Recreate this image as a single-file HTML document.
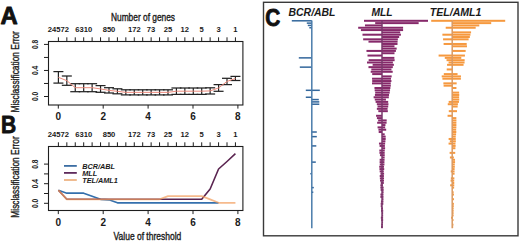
<!DOCTYPE html>
<html><head><meta charset="utf-8"><style>html,body{margin:0;padding:0;background:#fff;}svg{display:block;}</style></head>
<body>
<svg width="520" height="241" viewBox="0 0 520 241" font-family='"Liberation Sans", sans-serif'>
<rect width="520" height="241" fill="#fff"/>
<rect x="48.5" y="41.5" width="194.4" height="63.5" fill="none" stroke="#1e1e1e" stroke-width="1.1"/>
<line x1="58.40" y1="37.30" x2="58.40" y2="41.50" stroke="#1e1e1e" stroke-width="1" />
<line x1="66.83" y1="37.30" x2="66.83" y2="41.50" stroke="#1e1e1e" stroke-width="1" />
<line x1="75.26" y1="37.30" x2="75.26" y2="41.50" stroke="#1e1e1e" stroke-width="1" />
<line x1="83.69" y1="37.30" x2="83.69" y2="41.50" stroke="#1e1e1e" stroke-width="1" />
<line x1="92.12" y1="37.30" x2="92.12" y2="41.50" stroke="#1e1e1e" stroke-width="1" />
<line x1="100.55" y1="37.30" x2="100.55" y2="41.50" stroke="#1e1e1e" stroke-width="1" />
<line x1="108.98" y1="37.30" x2="108.98" y2="41.50" stroke="#1e1e1e" stroke-width="1" />
<line x1="117.41" y1="37.30" x2="117.41" y2="41.50" stroke="#1e1e1e" stroke-width="1" />
<line x1="125.84" y1="37.30" x2="125.84" y2="41.50" stroke="#1e1e1e" stroke-width="1" />
<line x1="134.27" y1="37.30" x2="134.27" y2="41.50" stroke="#1e1e1e" stroke-width="1" />
<line x1="142.70" y1="37.30" x2="142.70" y2="41.50" stroke="#1e1e1e" stroke-width="1" />
<line x1="151.13" y1="37.30" x2="151.13" y2="41.50" stroke="#1e1e1e" stroke-width="1" />
<line x1="159.56" y1="37.30" x2="159.56" y2="41.50" stroke="#1e1e1e" stroke-width="1" />
<line x1="167.99" y1="37.30" x2="167.99" y2="41.50" stroke="#1e1e1e" stroke-width="1" />
<line x1="176.42" y1="37.30" x2="176.42" y2="41.50" stroke="#1e1e1e" stroke-width="1" />
<line x1="184.85" y1="37.30" x2="184.85" y2="41.50" stroke="#1e1e1e" stroke-width="1" />
<line x1="193.28" y1="37.30" x2="193.28" y2="41.50" stroke="#1e1e1e" stroke-width="1" />
<line x1="201.71" y1="37.30" x2="201.71" y2="41.50" stroke="#1e1e1e" stroke-width="1" />
<line x1="210.14" y1="37.30" x2="210.14" y2="41.50" stroke="#1e1e1e" stroke-width="1" />
<line x1="218.57" y1="37.30" x2="218.57" y2="41.50" stroke="#1e1e1e" stroke-width="1" />
<line x1="227.00" y1="37.30" x2="227.00" y2="41.50" stroke="#1e1e1e" stroke-width="1" />
<line x1="235.43" y1="37.30" x2="235.43" y2="41.50" stroke="#1e1e1e" stroke-width="1" />
<text x="58.4" y="32.2" font-size="7.6" font-weight="bold" font-style="normal" text-anchor="middle" fill="#1a1a1a" >24572</text>
<text x="83.7" y="32.2" font-size="7.6" font-weight="bold" font-style="normal" text-anchor="middle" fill="#1a1a1a" >6310</text>
<text x="109.0" y="32.2" font-size="7.6" font-weight="bold" font-style="normal" text-anchor="middle" fill="#1a1a1a" >850</text>
<text x="134.3" y="32.2" font-size="7.6" font-weight="bold" font-style="normal" text-anchor="middle" fill="#1a1a1a" >172</text>
<text x="151.1" y="32.2" font-size="7.6" font-weight="bold" font-style="normal" text-anchor="middle" fill="#1a1a1a" >73</text>
<text x="168.0" y="32.2" font-size="7.6" font-weight="bold" font-style="normal" text-anchor="middle" fill="#1a1a1a" >25</text>
<text x="184.8" y="32.2" font-size="7.6" font-weight="bold" font-style="normal" text-anchor="middle" fill="#1a1a1a" >12</text>
<text x="201.7" y="32.2" font-size="7.6" font-weight="bold" font-style="normal" text-anchor="middle" fill="#1a1a1a" >5</text>
<text x="218.6" y="32.2" font-size="7.6" font-weight="bold" font-style="normal" text-anchor="middle" fill="#1a1a1a" >3</text>
<text x="235.4" y="32.2" font-size="7.6" font-weight="bold" font-style="normal" text-anchor="middle" fill="#1a1a1a" >1</text>
<line x1="58.30" y1="105.00" x2="58.30" y2="108.60" stroke="#1e1e1e" stroke-width="1" />
<text x="58.3" y="120.2" font-size="10" font-weight="bold" font-style="normal" text-anchor="middle" fill="#1a1a1a" >0</text>
<line x1="103.20" y1="105.00" x2="103.20" y2="108.60" stroke="#1e1e1e" stroke-width="1" />
<text x="103.2" y="120.2" font-size="10" font-weight="bold" font-style="normal" text-anchor="middle" fill="#1a1a1a" >2</text>
<line x1="148.10" y1="105.00" x2="148.10" y2="108.60" stroke="#1e1e1e" stroke-width="1" />
<text x="148.1" y="120.2" font-size="10" font-weight="bold" font-style="normal" text-anchor="middle" fill="#1a1a1a" >4</text>
<line x1="193.00" y1="105.00" x2="193.00" y2="108.60" stroke="#1e1e1e" stroke-width="1" />
<text x="193.0" y="120.2" font-size="10" font-weight="bold" font-style="normal" text-anchor="middle" fill="#1a1a1a" >6</text>
<line x1="237.90" y1="105.00" x2="237.90" y2="108.60" stroke="#1e1e1e" stroke-width="1" />
<text x="237.9" y="120.2" font-size="10" font-weight="bold" font-style="normal" text-anchor="middle" fill="#1a1a1a" >8</text>
<line x1="44.00" y1="96.50" x2="48.50" y2="96.50" stroke="#1e1e1e" stroke-width="1" />
<line x1="44.00" y1="83.48" x2="48.50" y2="83.48" stroke="#1e1e1e" stroke-width="1" />
<line x1="44.00" y1="70.46" x2="48.50" y2="70.46" stroke="#1e1e1e" stroke-width="1" />
<line x1="44.00" y1="57.44" x2="48.50" y2="57.44" stroke="#1e1e1e" stroke-width="1" />
<line x1="44.00" y1="44.42" x2="48.50" y2="44.42" stroke="#1e1e1e" stroke-width="1" />
<text x="0" y="0" transform="translate(38.2,96.5) rotate(-90)" font-size="8.2" font-weight="bold" text-anchor="middle" fill="#222" textLength="9.2" lengthAdjust="spacingAndGlyphs">0.0</text>
<text x="0" y="0" transform="translate(38.2,70.5) rotate(-90)" font-size="8.2" font-weight="bold" text-anchor="middle" fill="#222" textLength="9.2" lengthAdjust="spacingAndGlyphs">0.4</text>
<text x="0" y="0" transform="translate(38.2,44.4) rotate(-90)" font-size="8.2" font-weight="bold" text-anchor="middle" fill="#222" textLength="9.2" lengthAdjust="spacingAndGlyphs">0.8</text>
<text x="0" y="0" transform="translate(19,71.8) rotate(-90)" font-size="10.3" font-weight="normal" stroke="#1a1a1a" stroke-width="0.35" text-anchor="middle" fill="#1a1a1a" textLength="81.4" lengthAdjust="spacingAndGlyphs">Misclassification Error</text>
<text x="143" y="20.8" font-size="10.3" font-weight="normal" font-style="normal" text-anchor="middle" fill="#1a1a1a" textLength="64" lengthAdjust="spacingAndGlyphs" stroke="#1a1a1a" stroke-width="0.35">Number of genes</text>
<line x1="58.40" y1="71.60" x2="58.40" y2="83.10" stroke="#222" stroke-width="1.2" />
<line x1="53.40" y1="71.60" x2="63.40" y2="71.60" stroke="#222" stroke-width="1.25" />
<line x1="53.40" y1="83.10" x2="63.40" y2="83.10" stroke="#222" stroke-width="1.25" />
<line x1="66.83" y1="76.00" x2="66.83" y2="85.30" stroke="#222" stroke-width="1.2" />
<line x1="61.83" y1="76.00" x2="71.83" y2="76.00" stroke="#222" stroke-width="1.25" />
<line x1="61.83" y1="85.30" x2="71.83" y2="85.30" stroke="#222" stroke-width="1.25" />
<line x1="75.26" y1="83.70" x2="75.26" y2="91.70" stroke="#222" stroke-width="1.2" />
<line x1="70.26" y1="83.70" x2="80.26" y2="83.70" stroke="#222" stroke-width="1.25" />
<line x1="70.26" y1="91.70" x2="80.26" y2="91.70" stroke="#222" stroke-width="1.25" />
<line x1="83.69" y1="83.70" x2="83.69" y2="91.70" stroke="#222" stroke-width="1.2" />
<line x1="78.69" y1="83.70" x2="88.69" y2="83.70" stroke="#222" stroke-width="1.25" />
<line x1="78.69" y1="91.70" x2="88.69" y2="91.70" stroke="#222" stroke-width="1.25" />
<line x1="92.12" y1="83.70" x2="92.12" y2="91.70" stroke="#222" stroke-width="1.2" />
<line x1="87.12" y1="83.70" x2="97.12" y2="83.70" stroke="#222" stroke-width="1.25" />
<line x1="87.12" y1="91.70" x2="97.12" y2="91.70" stroke="#222" stroke-width="1.25" />
<line x1="100.55" y1="85.60" x2="100.55" y2="92.30" stroke="#222" stroke-width="1.2" />
<line x1="95.55" y1="85.60" x2="105.55" y2="85.60" stroke="#222" stroke-width="1.25" />
<line x1="95.55" y1="92.30" x2="105.55" y2="92.30" stroke="#222" stroke-width="1.25" />
<line x1="108.98" y1="87.70" x2="108.98" y2="93.00" stroke="#222" stroke-width="1.2" />
<line x1="103.98" y1="87.70" x2="113.98" y2="87.70" stroke="#222" stroke-width="1.25" />
<line x1="103.98" y1="93.00" x2="113.98" y2="93.00" stroke="#222" stroke-width="1.25" />
<line x1="117.41" y1="88.80" x2="117.41" y2="93.80" stroke="#222" stroke-width="1.2" />
<line x1="112.41" y1="88.80" x2="122.41" y2="88.80" stroke="#222" stroke-width="1.25" />
<line x1="112.41" y1="93.80" x2="122.41" y2="93.80" stroke="#222" stroke-width="1.25" />
<line x1="125.84" y1="89.80" x2="125.84" y2="94.90" stroke="#222" stroke-width="1.2" />
<line x1="120.84" y1="89.80" x2="130.84" y2="89.80" stroke="#222" stroke-width="1.25" />
<line x1="120.84" y1="94.90" x2="130.84" y2="94.90" stroke="#222" stroke-width="1.25" />
<line x1="134.27" y1="89.80" x2="134.27" y2="94.90" stroke="#222" stroke-width="1.2" />
<line x1="129.27" y1="89.80" x2="139.27" y2="89.80" stroke="#222" stroke-width="1.25" />
<line x1="129.27" y1="94.90" x2="139.27" y2="94.90" stroke="#222" stroke-width="1.25" />
<line x1="142.70" y1="89.80" x2="142.70" y2="94.90" stroke="#222" stroke-width="1.2" />
<line x1="137.70" y1="89.80" x2="147.70" y2="89.80" stroke="#222" stroke-width="1.25" />
<line x1="137.70" y1="94.90" x2="147.70" y2="94.90" stroke="#222" stroke-width="1.25" />
<line x1="151.13" y1="89.80" x2="151.13" y2="94.90" stroke="#222" stroke-width="1.2" />
<line x1="146.13" y1="89.80" x2="156.13" y2="89.80" stroke="#222" stroke-width="1.25" />
<line x1="146.13" y1="94.90" x2="156.13" y2="94.90" stroke="#222" stroke-width="1.25" />
<line x1="159.56" y1="89.80" x2="159.56" y2="94.90" stroke="#222" stroke-width="1.2" />
<line x1="154.56" y1="89.80" x2="164.56" y2="89.80" stroke="#222" stroke-width="1.25" />
<line x1="154.56" y1="94.90" x2="164.56" y2="94.90" stroke="#222" stroke-width="1.25" />
<line x1="167.99" y1="89.80" x2="167.99" y2="94.90" stroke="#222" stroke-width="1.2" />
<line x1="162.99" y1="89.80" x2="172.99" y2="89.80" stroke="#222" stroke-width="1.25" />
<line x1="162.99" y1="94.90" x2="172.99" y2="94.90" stroke="#222" stroke-width="1.25" />
<line x1="176.42" y1="88.00" x2="176.42" y2="94.40" stroke="#222" stroke-width="1.2" />
<line x1="171.42" y1="88.00" x2="181.42" y2="88.00" stroke="#222" stroke-width="1.25" />
<line x1="171.42" y1="94.40" x2="181.42" y2="94.40" stroke="#222" stroke-width="1.25" />
<line x1="184.85" y1="88.00" x2="184.85" y2="94.40" stroke="#222" stroke-width="1.2" />
<line x1="179.85" y1="88.00" x2="189.85" y2="88.00" stroke="#222" stroke-width="1.25" />
<line x1="179.85" y1="94.40" x2="189.85" y2="94.40" stroke="#222" stroke-width="1.25" />
<line x1="193.28" y1="88.00" x2="193.28" y2="94.40" stroke="#222" stroke-width="1.2" />
<line x1="188.28" y1="88.00" x2="198.28" y2="88.00" stroke="#222" stroke-width="1.25" />
<line x1="188.28" y1="94.40" x2="198.28" y2="94.40" stroke="#222" stroke-width="1.25" />
<line x1="201.71" y1="88.00" x2="201.71" y2="94.40" stroke="#222" stroke-width="1.2" />
<line x1="196.71" y1="88.00" x2="206.71" y2="88.00" stroke="#222" stroke-width="1.25" />
<line x1="196.71" y1="94.40" x2="206.71" y2="94.40" stroke="#222" stroke-width="1.25" />
<line x1="210.14" y1="87.80" x2="210.14" y2="94.00" stroke="#222" stroke-width="1.2" />
<line x1="205.14" y1="87.80" x2="215.14" y2="87.80" stroke="#222" stroke-width="1.25" />
<line x1="205.14" y1="94.00" x2="215.14" y2="94.00" stroke="#222" stroke-width="1.25" />
<line x1="218.57" y1="84.60" x2="218.57" y2="91.30" stroke="#222" stroke-width="1.2" />
<line x1="213.57" y1="84.60" x2="223.57" y2="84.60" stroke="#222" stroke-width="1.25" />
<line x1="213.57" y1="91.30" x2="223.57" y2="91.30" stroke="#222" stroke-width="1.25" />
<line x1="227.00" y1="78.30" x2="227.00" y2="84.60" stroke="#222" stroke-width="1.2" />
<line x1="222.00" y1="78.30" x2="232.00" y2="78.30" stroke="#222" stroke-width="1.25" />
<line x1="222.00" y1="84.60" x2="232.00" y2="84.60" stroke="#222" stroke-width="1.25" />
<line x1="235.43" y1="76.40" x2="235.43" y2="80.50" stroke="#222" stroke-width="1.2" />
<line x1="230.43" y1="76.40" x2="240.43" y2="76.40" stroke="#222" stroke-width="1.25" />
<line x1="230.43" y1="80.50" x2="240.43" y2="80.50" stroke="#222" stroke-width="1.25" />
<polyline points="58.40,77.35 66.83,80.65 75.26,87.70 83.69,87.70 92.12,87.70 100.55,88.95 108.98,90.35 117.41,91.30 125.84,92.35 134.27,92.35 142.70,92.35 151.13,92.35 159.56,92.35 167.99,92.35 176.42,91.20 184.85,91.20 193.28,91.20 201.71,91.20 210.14,90.90 218.57,87.95 227.00,81.45 235.43,78.45" fill="none" stroke="#ec8a7c" stroke-width="1.0" stroke-linejoin="round"/>
<rect x="48.5" y="146.5" width="194.4" height="64.0" fill="none" stroke="#1e1e1e" stroke-width="1.1"/>
<line x1="58.40" y1="142.30" x2="58.40" y2="146.50" stroke="#1e1e1e" stroke-width="1" />
<line x1="66.83" y1="142.30" x2="66.83" y2="146.50" stroke="#1e1e1e" stroke-width="1" />
<line x1="75.26" y1="142.30" x2="75.26" y2="146.50" stroke="#1e1e1e" stroke-width="1" />
<line x1="83.69" y1="142.30" x2="83.69" y2="146.50" stroke="#1e1e1e" stroke-width="1" />
<line x1="92.12" y1="142.30" x2="92.12" y2="146.50" stroke="#1e1e1e" stroke-width="1" />
<line x1="100.55" y1="142.30" x2="100.55" y2="146.50" stroke="#1e1e1e" stroke-width="1" />
<line x1="108.98" y1="142.30" x2="108.98" y2="146.50" stroke="#1e1e1e" stroke-width="1" />
<line x1="117.41" y1="142.30" x2="117.41" y2="146.50" stroke="#1e1e1e" stroke-width="1" />
<line x1="125.84" y1="142.30" x2="125.84" y2="146.50" stroke="#1e1e1e" stroke-width="1" />
<line x1="134.27" y1="142.30" x2="134.27" y2="146.50" stroke="#1e1e1e" stroke-width="1" />
<line x1="142.70" y1="142.30" x2="142.70" y2="146.50" stroke="#1e1e1e" stroke-width="1" />
<line x1="151.13" y1="142.30" x2="151.13" y2="146.50" stroke="#1e1e1e" stroke-width="1" />
<line x1="159.56" y1="142.30" x2="159.56" y2="146.50" stroke="#1e1e1e" stroke-width="1" />
<line x1="167.99" y1="142.30" x2="167.99" y2="146.50" stroke="#1e1e1e" stroke-width="1" />
<line x1="176.42" y1="142.30" x2="176.42" y2="146.50" stroke="#1e1e1e" stroke-width="1" />
<line x1="184.85" y1="142.30" x2="184.85" y2="146.50" stroke="#1e1e1e" stroke-width="1" />
<line x1="193.28" y1="142.30" x2="193.28" y2="146.50" stroke="#1e1e1e" stroke-width="1" />
<line x1="201.71" y1="142.30" x2="201.71" y2="146.50" stroke="#1e1e1e" stroke-width="1" />
<line x1="210.14" y1="142.30" x2="210.14" y2="146.50" stroke="#1e1e1e" stroke-width="1" />
<line x1="218.57" y1="142.30" x2="218.57" y2="146.50" stroke="#1e1e1e" stroke-width="1" />
<line x1="227.00" y1="142.30" x2="227.00" y2="146.50" stroke="#1e1e1e" stroke-width="1" />
<line x1="235.43" y1="142.30" x2="235.43" y2="146.50" stroke="#1e1e1e" stroke-width="1" />
<text x="58.4" y="137.2" font-size="7.6" font-weight="bold" font-style="normal" text-anchor="middle" fill="#1a1a1a" >24572</text>
<text x="83.7" y="137.2" font-size="7.6" font-weight="bold" font-style="normal" text-anchor="middle" fill="#1a1a1a" >6310</text>
<text x="109.0" y="137.2" font-size="7.6" font-weight="bold" font-style="normal" text-anchor="middle" fill="#1a1a1a" >850</text>
<text x="134.3" y="137.2" font-size="7.6" font-weight="bold" font-style="normal" text-anchor="middle" fill="#1a1a1a" >172</text>
<text x="151.1" y="137.2" font-size="7.6" font-weight="bold" font-style="normal" text-anchor="middle" fill="#1a1a1a" >73</text>
<text x="168.0" y="137.2" font-size="7.6" font-weight="bold" font-style="normal" text-anchor="middle" fill="#1a1a1a" >25</text>
<text x="184.8" y="137.2" font-size="7.6" font-weight="bold" font-style="normal" text-anchor="middle" fill="#1a1a1a" >12</text>
<text x="201.7" y="137.2" font-size="7.6" font-weight="bold" font-style="normal" text-anchor="middle" fill="#1a1a1a" >5</text>
<text x="218.6" y="137.2" font-size="7.6" font-weight="bold" font-style="normal" text-anchor="middle" fill="#1a1a1a" >3</text>
<text x="235.4" y="137.2" font-size="7.6" font-weight="bold" font-style="normal" text-anchor="middle" fill="#1a1a1a" >1</text>
<line x1="58.30" y1="210.50" x2="58.30" y2="214.10" stroke="#1e1e1e" stroke-width="1" />
<text x="58.3" y="225.7" font-size="10" font-weight="bold" font-style="normal" text-anchor="middle" fill="#1a1a1a" >0</text>
<line x1="103.20" y1="210.50" x2="103.20" y2="214.10" stroke="#1e1e1e" stroke-width="1" />
<text x="103.2" y="225.7" font-size="10" font-weight="bold" font-style="normal" text-anchor="middle" fill="#1a1a1a" >2</text>
<line x1="148.10" y1="210.50" x2="148.10" y2="214.10" stroke="#1e1e1e" stroke-width="1" />
<text x="148.1" y="225.7" font-size="10" font-weight="bold" font-style="normal" text-anchor="middle" fill="#1a1a1a" >4</text>
<line x1="193.00" y1="210.50" x2="193.00" y2="214.10" stroke="#1e1e1e" stroke-width="1" />
<text x="193.0" y="225.7" font-size="10" font-weight="bold" font-style="normal" text-anchor="middle" fill="#1a1a1a" >6</text>
<line x1="237.90" y1="210.50" x2="237.90" y2="214.10" stroke="#1e1e1e" stroke-width="1" />
<text x="237.9" y="225.7" font-size="10" font-weight="bold" font-style="normal" text-anchor="middle" fill="#1a1a1a" >8</text>
<line x1="44.00" y1="203.30" x2="48.50" y2="203.30" stroke="#1e1e1e" stroke-width="1" />
<line x1="44.00" y1="193.50" x2="48.50" y2="193.50" stroke="#1e1e1e" stroke-width="1" />
<line x1="44.00" y1="183.70" x2="48.50" y2="183.70" stroke="#1e1e1e" stroke-width="1" />
<line x1="44.00" y1="173.90" x2="48.50" y2="173.90" stroke="#1e1e1e" stroke-width="1" />
<line x1="44.00" y1="164.10" x2="48.50" y2="164.10" stroke="#1e1e1e" stroke-width="1" />
<text x="0" y="0" transform="translate(38.2,203.3) rotate(-90)" font-size="8.2" font-weight="bold" text-anchor="middle" fill="#222" textLength="9.2" lengthAdjust="spacingAndGlyphs">0.0</text>
<text x="0" y="0" transform="translate(38.2,183.7) rotate(-90)" font-size="8.2" font-weight="bold" text-anchor="middle" fill="#222" textLength="9.2" lengthAdjust="spacingAndGlyphs">0.4</text>
<text x="0" y="0" transform="translate(38.2,164.1) rotate(-90)" font-size="8.2" font-weight="bold" text-anchor="middle" fill="#222" textLength="9.2" lengthAdjust="spacingAndGlyphs">0.8</text>
<text x="0" y="0" transform="translate(19,177.0) rotate(-90)" font-size="10.3" font-weight="normal" stroke="#1a1a1a" stroke-width="0.35" text-anchor="middle" fill="#1a1a1a" textLength="81.4" lengthAdjust="spacingAndGlyphs">Misclassification Error</text>
<text x="147.4" y="240.2" font-size="10.3" font-weight="normal" font-style="normal" text-anchor="middle" fill="#1a1a1a" textLength="67.7" lengthAdjust="spacingAndGlyphs" stroke="#1a1a1a" stroke-width="0.35">Value of threshold</text>
<line x1="64.00" y1="165.90" x2="76.80" y2="165.90" stroke="#3c6ea3" stroke-width="1.8" />
<text x="82.2" y="168.5" font-size="7.3" font-weight="bold" font-style="italic" text-anchor="start" fill="#1a1a1a" >BCR/ABL</text>
<line x1="64.00" y1="172.90" x2="76.80" y2="172.90" stroke="#5e2a5c" stroke-width="1.8" />
<text x="82.2" y="175.5" font-size="7.3" font-weight="bold" font-style="italic" text-anchor="start" fill="#1a1a1a" >MLL</text>
<line x1="64.00" y1="180.00" x2="76.80" y2="180.00" stroke="#eeb484" stroke-width="1.8" />
<text x="82.2" y="182.6" font-size="7.3" font-weight="bold" font-style="italic" text-anchor="start" fill="#1a1a1a" >TEL/AML1</text>
<polyline points="58.40,190.20 66.83,193.20 75.26,193.20 83.69,193.20 92.12,196.30 100.55,199.30 108.98,199.80 117.41,202.80 125.84,202.80 134.27,202.80 142.70,202.80 151.13,202.80 159.56,202.80 167.99,202.80 176.42,202.80 184.85,202.80 193.28,202.80 201.71,202.80 210.14,202.80 218.57,202.80" fill="none" stroke="#3470ad" stroke-width="1.7" stroke-linejoin="round"/>
<polyline points="58.40,190.20 66.83,199.30 75.26,199.30 83.69,199.30 92.12,199.30 100.55,199.30 108.98,199.30 117.41,199.30 125.84,199.30 134.27,199.30 142.70,199.30 151.13,199.30 159.56,199.30 167.99,199.30 176.42,199.30 184.85,199.30 193.28,199.30 201.71,199.30 210.14,189.00 218.57,169.00 227.00,161.50 235.43,153.70" fill="none" stroke="#5a2450" stroke-width="1.6" stroke-linejoin="round"/>
<g opacity="0.72">
<polyline points="58.40,190.20 66.83,199.30 75.26,199.30 83.69,199.30 92.12,199.30 100.55,199.30 108.98,199.30 117.41,199.30 125.84,199.30 134.27,199.30 142.70,199.30 151.13,199.30 159.56,199.30 167.99,196.10 176.42,196.10 184.85,196.10 193.28,196.10 201.71,196.10 210.14,199.40 218.57,202.80 227.00,202.80 235.43,202.80" fill="none" stroke="#f2a060" stroke-width="1.7" stroke-linejoin="round"/>
</g>
<text x="9" y="24.3" font-size="24.5" font-weight="bold" font-style="normal" text-anchor="middle" fill="#111" textLength="17.2" lengthAdjust="spacingAndGlyphs" stroke="#111" stroke-width="0.9" stroke-linejoin="round">A</text>
<text x="8.7" y="133.4" font-size="24.8" font-weight="bold" font-style="normal" text-anchor="middle" fill="#111" textLength="15.2" lengthAdjust="spacingAndGlyphs" stroke="#111" stroke-width="0.9" stroke-linejoin="round">B</text>
<text x="272.8" y="25.5" font-size="24.8" font-weight="bold" font-style="normal" text-anchor="middle" fill="#111" textLength="15" lengthAdjust="spacingAndGlyphs" stroke="#111" stroke-width="0.9" stroke-linejoin="round">C</text>
<rect x="263.5" y="2.3" width="254.5" height="233.5" fill="none" stroke="#3a3a3a" stroke-width="1.4"/>
<text x="312" y="15.9" font-size="10.5" font-weight="bold" font-style="italic" text-anchor="middle" fill="#1a1a1a" textLength="47" lengthAdjust="spacingAndGlyphs" >BCR/ABL</text>
<text x="382" y="16.1" font-size="10.5" font-weight="bold" font-style="italic" text-anchor="middle" fill="#1a1a1a" textLength="21.2" lengthAdjust="spacingAndGlyphs" >MLL</text>
<text x="455.6" y="16.2" font-size="10.5" font-weight="bold" font-style="italic" text-anchor="middle" fill="#1a1a1a" textLength="51.8" lengthAdjust="spacingAndGlyphs" >TEL/AML1</text>
<rect x="291.80" y="20.05" width="20.00" height="1.5" fill="#33679c"/>
<rect x="306.80" y="22.37" width="5.00" height="1.5" fill="#33679c"/>
<rect x="307.80" y="24.68" width="4.00" height="1.5" fill="#33679c"/>
<rect x="309.30" y="27.00" width="2.50" height="1.5" fill="#33679c"/>
<rect x="298.80" y="57.12" width="13.00" height="1.5" fill="#33679c"/>
<rect x="299.80" y="66.39" width="12.00" height="1.5" fill="#33679c"/>
<rect x="311.80" y="89.56" width="8.00" height="1.5" fill="#33679c"/>
<rect x="305.80" y="89.56" width="6.00" height="1.5" fill="#33679c"/>
<rect x="305.80" y="96.51" width="6.00" height="1.5" fill="#33679c"/>
<rect x="311.80" y="98.82" width="7.00" height="1.5" fill="#33679c"/>
<rect x="311.80" y="101.14" width="7.50" height="1.5" fill="#33679c"/>
<rect x="311.80" y="103.46" width="7.50" height="1.5" fill="#33679c"/>
<rect x="311.80" y="131.26" width="5.00" height="1.5" fill="#33679c"/>
<rect x="311.80" y="135.89" width="5.00" height="1.5" fill="#33679c"/>
<rect x="311.80" y="145.16" width="4.50" height="1.5" fill="#33679c"/>
<rect x="311.80" y="161.38" width="4.00" height="1.5" fill="#33679c"/>
<rect x="310.30" y="172.96" width="1.50" height="1.5" fill="#33679c"/>
<rect x="311.80" y="186.86" width="2.00" height="1.5" fill="#33679c"/>
<rect x="311.80" y="191.50" width="1.50" height="1.5" fill="#33679c"/>
<line x1="311.80" y1="20.50" x2="311.80" y2="228.30" stroke="#4a7cab" stroke-width="1.5" />
<rect x="382.00" y="19.80" width="46.00" height="2.0" fill="#86296a"/>
<rect x="364.00" y="19.80" width="18.00" height="2.0" fill="#86296a"/>
<rect x="382.00" y="22.12" width="36.65" height="2.0" fill="#86296a"/>
<rect x="375.18" y="22.12" width="6.82" height="2.0" fill="#86296a"/>
<rect x="364.97" y="24.43" width="17.03" height="2.0" fill="#86296a"/>
<rect x="382.00" y="26.75" width="21.10" height="2.0" fill="#86296a"/>
<rect x="358.18" y="26.75" width="23.82" height="2.0" fill="#86296a"/>
<rect x="382.00" y="29.07" width="21.09" height="2.0" fill="#86296a"/>
<rect x="360.91" y="29.07" width="21.09" height="2.0" fill="#86296a"/>
<rect x="382.00" y="31.38" width="18.18" height="2.0" fill="#86296a"/>
<rect x="382.00" y="33.70" width="18.90" height="2.0" fill="#86296a"/>
<rect x="362.49" y="33.70" width="19.51" height="2.0" fill="#86296a"/>
<rect x="382.00" y="36.02" width="17.17" height="2.0" fill="#86296a"/>
<rect x="382.00" y="38.33" width="15.86" height="2.0" fill="#86296a"/>
<rect x="363.16" y="38.33" width="18.84" height="2.0" fill="#86296a"/>
<rect x="382.00" y="40.65" width="15.58" height="2.0" fill="#86296a"/>
<rect x="368.49" y="40.65" width="13.51" height="2.0" fill="#86296a"/>
<rect x="382.00" y="42.97" width="15.50" height="2.0" fill="#86296a"/>
<rect x="382.00" y="45.29" width="12.49" height="2.0" fill="#86296a"/>
<rect x="382.00" y="47.60" width="14.67" height="2.0" fill="#86296a"/>
<rect x="382.00" y="49.92" width="13.89" height="2.0" fill="#86296a"/>
<rect x="366.46" y="49.92" width="15.54" height="2.0" fill="#86296a"/>
<rect x="382.00" y="52.24" width="12.51" height="2.0" fill="#86296a"/>
<rect x="367.50" y="54.55" width="14.50" height="2.0" fill="#86296a"/>
<rect x="382.00" y="56.87" width="12.37" height="2.0" fill="#86296a"/>
<rect x="382.00" y="59.19" width="12.61" height="2.0" fill="#86296a"/>
<rect x="368.63" y="59.19" width="13.37" height="2.0" fill="#86296a"/>
<rect x="382.00" y="61.50" width="10.88" height="2.0" fill="#86296a"/>
<rect x="367.01" y="61.50" width="14.99" height="2.0" fill="#86296a"/>
<rect x="382.00" y="63.82" width="11.87" height="2.0" fill="#86296a"/>
<rect x="372.62" y="63.82" width="9.38" height="2.0" fill="#86296a"/>
<rect x="382.00" y="66.14" width="10.82" height="2.0" fill="#86296a"/>
<rect x="368.47" y="66.14" width="13.53" height="2.0" fill="#86296a"/>
<rect x="382.00" y="68.45" width="9.44" height="2.0" fill="#86296a"/>
<rect x="371.34" y="68.45" width="10.66" height="2.0" fill="#86296a"/>
<rect x="382.00" y="70.77" width="10.69" height="2.0" fill="#86296a"/>
<rect x="370.69" y="70.77" width="11.31" height="2.0" fill="#86296a"/>
<rect x="372.19" y="73.09" width="9.81" height="2.0" fill="#86296a"/>
<rect x="382.00" y="75.40" width="9.66" height="2.0" fill="#86296a"/>
<rect x="382.00" y="77.72" width="8.98" height="2.0" fill="#86296a"/>
<rect x="372.06" y="77.72" width="9.94" height="2.0" fill="#86296a"/>
<rect x="382.00" y="80.04" width="9.41" height="2.0" fill="#86296a"/>
<rect x="372.19" y="80.04" width="9.81" height="2.0" fill="#86296a"/>
<rect x="382.00" y="82.36" width="8.76" height="2.0" fill="#86296a"/>
<rect x="372.01" y="82.36" width="9.99" height="2.0" fill="#86296a"/>
<rect x="382.00" y="84.67" width="8.79" height="2.0" fill="#86296a"/>
<rect x="382.00" y="86.99" width="8.37" height="2.0" fill="#86296a"/>
<rect x="374.47" y="86.99" width="7.53" height="2.0" fill="#86296a"/>
<rect x="382.00" y="89.31" width="8.04" height="2.0" fill="#86296a"/>
<rect x="374.66" y="89.31" width="7.34" height="2.0" fill="#86296a"/>
<rect x="382.00" y="91.62" width="7.69" height="2.0" fill="#86296a"/>
<rect x="375.20" y="91.62" width="6.80" height="2.0" fill="#86296a"/>
<rect x="382.00" y="93.94" width="7.05" height="2.0" fill="#86296a"/>
<rect x="374.91" y="93.94" width="7.09" height="2.0" fill="#86296a"/>
<rect x="382.00" y="96.26" width="6.81" height="2.0" fill="#86296a"/>
<rect x="373.63" y="96.26" width="8.37" height="2.0" fill="#86296a"/>
<rect x="382.00" y="98.57" width="3.95" height="2.0" fill="#86296a"/>
<rect x="374.77" y="98.57" width="7.23" height="2.0" fill="#86296a"/>
<rect x="382.00" y="100.89" width="6.18" height="2.0" fill="#86296a"/>
<rect x="375.60" y="100.89" width="6.40" height="2.0" fill="#86296a"/>
<rect x="382.00" y="103.21" width="6.45" height="2.0" fill="#86296a"/>
<rect x="376.83" y="103.21" width="5.17" height="2.0" fill="#86296a"/>
<rect x="382.00" y="105.52" width="6.20" height="2.0" fill="#86296a"/>
<rect x="377.56" y="105.52" width="4.44" height="2.0" fill="#86296a"/>
<rect x="382.00" y="107.84" width="5.58" height="2.0" fill="#86296a"/>
<rect x="376.85" y="107.84" width="5.15" height="2.0" fill="#86296a"/>
<rect x="382.00" y="110.16" width="5.83" height="2.0" fill="#86296a"/>
<rect x="378.31" y="110.16" width="3.69" height="2.0" fill="#86296a"/>
<rect x="376.07" y="114.79" width="5.93" height="2.0" fill="#86296a"/>
<rect x="376.91" y="117.11" width="5.09" height="2.0" fill="#86296a"/>
<rect x="382.00" y="119.42" width="4.68" height="2.0" fill="#86296a"/>
<rect x="378.15" y="119.42" width="3.85" height="2.0" fill="#86296a"/>
<rect x="382.00" y="121.74" width="4.58" height="2.0" fill="#86296a"/>
<rect x="377.14" y="121.74" width="4.86" height="2.0" fill="#86296a"/>
<rect x="382.00" y="124.06" width="3.46" height="2.0" fill="#86296a"/>
<rect x="382.00" y="126.38" width="3.16" height="2.0" fill="#86296a"/>
<rect x="377.57" y="126.38" width="4.43" height="2.0" fill="#86296a"/>
<rect x="382.00" y="128.69" width="4.18" height="2.0" fill="#86296a"/>
<rect x="378.43" y="128.69" width="3.57" height="2.0" fill="#86296a"/>
<rect x="378.69" y="131.01" width="3.31" height="2.0" fill="#86296a"/>
<rect x="382.00" y="133.33" width="2.70" height="2.0" fill="#86296a"/>
<rect x="382.00" y="135.64" width="3.67" height="2.0" fill="#86296a"/>
<rect x="382.00" y="137.96" width="3.70" height="2.0" fill="#86296a"/>
<rect x="382.00" y="140.28" width="3.42" height="2.0" fill="#86296a"/>
<rect x="382.00" y="142.59" width="3.13" height="2.0" fill="#86296a"/>
<rect x="378.97" y="142.59" width="3.03" height="2.0" fill="#86296a"/>
<rect x="382.00" y="144.91" width="2.88" height="2.0" fill="#86296a"/>
<rect x="379.58" y="144.91" width="2.42" height="2.0" fill="#86296a"/>
<rect x="382.00" y="147.23" width="3.11" height="2.0" fill="#86296a"/>
<rect x="382.00" y="149.54" width="2.74" height="2.0" fill="#86296a"/>
<rect x="379.33" y="149.54" width="2.67" height="2.0" fill="#86296a"/>
<rect x="382.00" y="151.86" width="2.68" height="2.0" fill="#86296a"/>
<rect x="379.45" y="151.86" width="2.55" height="2.0" fill="#86296a"/>
<rect x="382.00" y="154.18" width="2.73" height="2.0" fill="#86296a"/>
<rect x="379.94" y="154.18" width="2.06" height="2.0" fill="#86296a"/>
<rect x="382.00" y="156.49" width="2.62" height="2.0" fill="#86296a"/>
<rect x="382.00" y="158.81" width="2.55" height="2.0" fill="#86296a"/>
<rect x="379.65" y="158.81" width="2.35" height="2.0" fill="#86296a"/>
<rect x="382.00" y="161.13" width="2.42" height="2.0" fill="#86296a"/>
<rect x="379.61" y="161.13" width="2.39" height="2.0" fill="#86296a"/>
<rect x="382.00" y="163.44" width="2.43" height="2.0" fill="#86296a"/>
<rect x="379.75" y="163.44" width="2.25" height="2.0" fill="#86296a"/>
<rect x="382.00" y="165.76" width="2.02" height="2.0" fill="#86296a"/>
<rect x="379.23" y="165.76" width="2.77" height="2.0" fill="#86296a"/>
<rect x="382.00" y="168.08" width="2.21" height="2.0" fill="#86296a"/>
<rect x="379.45" y="168.08" width="2.55" height="2.0" fill="#86296a"/>
<rect x="382.00" y="170.40" width="1.78" height="2.0" fill="#86296a"/>
<rect x="379.66" y="170.40" width="2.34" height="2.0" fill="#86296a"/>
<rect x="382.00" y="172.71" width="2.10" height="2.0" fill="#86296a"/>
<rect x="380.44" y="172.71" width="1.56" height="2.0" fill="#86296a"/>
<rect x="382.00" y="175.03" width="1.90" height="2.0" fill="#86296a"/>
<rect x="379.72" y="175.03" width="2.28" height="2.0" fill="#86296a"/>
<rect x="382.00" y="177.35" width="2.02" height="2.0" fill="#86296a"/>
<rect x="379.87" y="177.35" width="2.13" height="2.0" fill="#86296a"/>
<rect x="382.00" y="179.66" width="1.97" height="2.0" fill="#86296a"/>
<rect x="380.02" y="179.66" width="1.98" height="2.0" fill="#86296a"/>
<rect x="382.00" y="181.98" width="1.81" height="2.0" fill="#86296a"/>
<rect x="380.74" y="181.98" width="1.26" height="2.0" fill="#86296a"/>
<rect x="382.00" y="184.30" width="0.97" height="2.0" fill="#86296a"/>
<rect x="380.36" y="184.30" width="1.64" height="2.0" fill="#86296a"/>
<rect x="382.00" y="186.61" width="1.63" height="2.0" fill="#86296a"/>
<rect x="380.37" y="186.61" width="1.63" height="2.0" fill="#86296a"/>
<rect x="382.00" y="188.93" width="1.62" height="2.0" fill="#86296a"/>
<rect x="380.65" y="188.93" width="1.35" height="2.0" fill="#86296a"/>
<rect x="382.00" y="191.25" width="1.59" height="2.0" fill="#86296a"/>
<rect x="382.00" y="193.56" width="1.47" height="2.0" fill="#86296a"/>
<rect x="380.43" y="193.56" width="1.57" height="2.0" fill="#86296a"/>
<rect x="382.00" y="195.88" width="1.48" height="2.0" fill="#86296a"/>
<rect x="380.38" y="195.88" width="1.62" height="2.0" fill="#86296a"/>
<rect x="382.00" y="198.20" width="1.47" height="2.0" fill="#86296a"/>
<rect x="382.00" y="200.51" width="1.42" height="2.0" fill="#86296a"/>
<rect x="380.95" y="200.51" width="1.05" height="2.0" fill="#86296a"/>
<rect x="382.00" y="202.83" width="1.31" height="2.0" fill="#86296a"/>
<rect x="380.69" y="202.83" width="1.31" height="2.0" fill="#86296a"/>
<rect x="380.73" y="205.15" width="1.27" height="2.0" fill="#86296a"/>
<rect x="382.00" y="207.47" width="0.95" height="2.0" fill="#86296a"/>
<rect x="381.08" y="207.47" width="0.92" height="2.0" fill="#86296a"/>
<rect x="382.00" y="209.78" width="1.21" height="2.0" fill="#86296a"/>
<rect x="381.03" y="209.78" width="0.97" height="2.0" fill="#86296a"/>
<rect x="382.00" y="212.10" width="1.14" height="2.0" fill="#86296a"/>
<rect x="382.00" y="214.42" width="1.15" height="2.0" fill="#86296a"/>
<rect x="382.00" y="216.73" width="1.11" height="2.0" fill="#86296a"/>
<rect x="380.86" y="216.73" width="1.14" height="2.0" fill="#86296a"/>
<rect x="382.00" y="219.05" width="1.14" height="2.0" fill="#86296a"/>
<rect x="381.24" y="219.05" width="0.76" height="2.0" fill="#86296a"/>
<rect x="382.00" y="221.37" width="1.06" height="2.0" fill="#86296a"/>
<rect x="382.00" y="223.68" width="0.96" height="2.0" fill="#86296a"/>
<rect x="381.32" y="223.68" width="0.68" height="2.0" fill="#86296a"/>
<rect x="382.00" y="226.00" width="0.83" height="2.0" fill="#86296a"/>
<rect x="381.04" y="226.00" width="0.96" height="2.0" fill="#86296a"/>
<line x1="382.00" y1="20.50" x2="382.00" y2="228.30" stroke="#7a3a6c" stroke-width="1.5" />
<rect x="452.20" y="19.80" width="53.00" height="2.0" fill="#f6993f"/>
<rect x="431.20" y="19.80" width="21.00" height="2.0" fill="#f6993f"/>
<rect x="452.20" y="22.12" width="39.00" height="2.0" fill="#f6993f"/>
<rect x="452.20" y="24.43" width="27.09" height="2.0" fill="#f6993f"/>
<rect x="452.20" y="26.75" width="23.48" height="2.0" fill="#f6993f"/>
<rect x="445.71" y="26.75" width="6.49" height="2.0" fill="#f6993f"/>
<rect x="452.20" y="31.38" width="18.88" height="2.0" fill="#f6993f"/>
<rect x="452.20" y="33.70" width="18.24" height="2.0" fill="#f6993f"/>
<rect x="442.40" y="33.70" width="9.80" height="2.0" fill="#f6993f"/>
<rect x="452.20" y="36.02" width="17.64" height="2.0" fill="#f6993f"/>
<rect x="452.20" y="38.33" width="16.42" height="2.0" fill="#f6993f"/>
<rect x="443.07" y="38.33" width="9.13" height="2.0" fill="#f6993f"/>
<rect x="452.20" y="42.97" width="14.50" height="2.0" fill="#f6993f"/>
<rect x="443.60" y="42.97" width="8.60" height="2.0" fill="#f6993f"/>
<rect x="452.20" y="45.29" width="14.77" height="2.0" fill="#f6993f"/>
<rect x="452.20" y="49.92" width="13.46" height="2.0" fill="#f6993f"/>
<rect x="452.20" y="54.55" width="12.72" height="2.0" fill="#f6993f"/>
<rect x="438.60" y="54.55" width="13.60" height="2.0" fill="#f6993f"/>
<rect x="452.20" y="56.87" width="9.10" height="2.0" fill="#f6993f"/>
<rect x="444.79" y="56.87" width="7.41" height="2.0" fill="#f6993f"/>
<rect x="452.20" y="59.19" width="12.44" height="2.0" fill="#f6993f"/>
<rect x="446.52" y="59.19" width="5.68" height="2.0" fill="#f6993f"/>
<rect x="452.20" y="61.50" width="12.36" height="2.0" fill="#f6993f"/>
<rect x="448.58" y="61.50" width="3.62" height="2.0" fill="#f6993f"/>
<rect x="452.20" y="63.82" width="11.36" height="2.0" fill="#f6993f"/>
<rect x="447.04" y="63.82" width="5.16" height="2.0" fill="#f6993f"/>
<rect x="446.72" y="68.45" width="5.48" height="2.0" fill="#f6993f"/>
<rect x="452.20" y="73.09" width="5.36" height="2.0" fill="#f6993f"/>
<rect x="443.80" y="73.09" width="8.40" height="2.0" fill="#f6993f"/>
<rect x="452.20" y="75.40" width="8.75" height="2.0" fill="#f6993f"/>
<rect x="441.70" y="75.40" width="10.50" height="2.0" fill="#f6993f"/>
<rect x="452.20" y="77.72" width="8.69" height="2.0" fill="#f6993f"/>
<rect x="442.40" y="77.72" width="9.80" height="2.0" fill="#f6993f"/>
<rect x="452.20" y="82.36" width="4.45" height="2.0" fill="#f6993f"/>
<rect x="443.38" y="82.36" width="8.82" height="2.0" fill="#f6993f"/>
<rect x="443.60" y="84.67" width="8.60" height="2.0" fill="#f6993f"/>
<rect x="452.20" y="86.99" width="4.23" height="2.0" fill="#f6993f"/>
<rect x="452.20" y="91.62" width="6.94" height="2.0" fill="#f6993f"/>
<rect x="452.20" y="93.94" width="7.05" height="2.0" fill="#f6993f"/>
<rect x="452.20" y="96.26" width="6.93" height="2.0" fill="#f6993f"/>
<rect x="452.20" y="98.57" width="7.03" height="2.0" fill="#f6993f"/>
<rect x="452.20" y="100.89" width="6.75" height="2.0" fill="#f6993f"/>
<rect x="448.68" y="100.89" width="3.52" height="2.0" fill="#f6993f"/>
<rect x="452.20" y="103.21" width="5.71" height="2.0" fill="#f6993f"/>
<rect x="447.76" y="103.21" width="4.44" height="2.0" fill="#f6993f"/>
<rect x="452.20" y="105.52" width="5.43" height="2.0" fill="#f6993f"/>
<rect x="452.20" y="110.16" width="4.82" height="2.0" fill="#f6993f"/>
<rect x="448.78" y="110.16" width="3.42" height="2.0" fill="#f6993f"/>
<rect x="447.57" y="114.79" width="4.63" height="2.0" fill="#f6993f"/>
<rect x="452.20" y="117.11" width="4.14" height="2.0" fill="#f6993f"/>
<rect x="452.20" y="119.42" width="4.21" height="2.0" fill="#f6993f"/>
<rect x="452.20" y="121.74" width="4.18" height="2.0" fill="#f6993f"/>
<rect x="452.20" y="124.06" width="4.18" height="2.0" fill="#f6993f"/>
<rect x="452.20" y="126.38" width="4.13" height="2.0" fill="#f6993f"/>
<rect x="452.20" y="128.69" width="3.97" height="2.0" fill="#f6993f"/>
<rect x="452.20" y="131.01" width="4.10" height="2.0" fill="#f6993f"/>
<rect x="452.20" y="133.33" width="3.89" height="2.0" fill="#f6993f"/>
<rect x="452.20" y="135.64" width="3.53" height="2.0" fill="#f6993f"/>
<rect x="452.20" y="137.96" width="3.58" height="2.0" fill="#f6993f"/>
<rect x="448.62" y="137.96" width="3.58" height="2.0" fill="#f6993f"/>
<rect x="452.20" y="140.28" width="3.64" height="2.0" fill="#f6993f"/>
<rect x="449.83" y="140.28" width="2.37" height="2.0" fill="#f6993f"/>
<rect x="452.20" y="142.59" width="3.28" height="2.0" fill="#f6993f"/>
<rect x="448.56" y="142.59" width="3.64" height="2.0" fill="#f6993f"/>
<rect x="452.20" y="144.91" width="3.43" height="2.0" fill="#f6993f"/>
<rect x="452.20" y="147.23" width="3.20" height="2.0" fill="#f6993f"/>
<rect x="452.20" y="151.86" width="3.02" height="2.0" fill="#f6993f"/>
<rect x="449.62" y="151.86" width="2.58" height="2.0" fill="#f6993f"/>
<rect x="452.20" y="156.49" width="1.69" height="2.0" fill="#f6993f"/>
<rect x="449.90" y="156.49" width="2.30" height="2.0" fill="#f6993f"/>
<rect x="452.20" y="158.81" width="2.83" height="2.0" fill="#f6993f"/>
<rect x="452.20" y="161.13" width="2.87" height="2.0" fill="#f6993f"/>
<rect x="452.20" y="163.44" width="2.55" height="2.0" fill="#f6993f"/>
<rect x="452.20" y="165.76" width="2.61" height="2.0" fill="#f6993f"/>
<rect x="452.20" y="168.08" width="2.41" height="2.0" fill="#f6993f"/>
<rect x="452.20" y="170.40" width="2.35" height="2.0" fill="#f6993f"/>
<rect x="450.73" y="170.40" width="1.47" height="2.0" fill="#f6993f"/>
<rect x="452.20" y="172.71" width="2.36" height="2.0" fill="#f6993f"/>
<rect x="452.20" y="177.35" width="2.15" height="2.0" fill="#f6993f"/>
<rect x="450.86" y="177.35" width="1.34" height="2.0" fill="#f6993f"/>
<rect x="452.20" y="179.66" width="2.01" height="2.0" fill="#f6993f"/>
<rect x="450.59" y="179.66" width="1.61" height="2.0" fill="#f6993f"/>
<rect x="452.20" y="181.98" width="2.06" height="2.0" fill="#f6993f"/>
<rect x="452.20" y="184.30" width="2.07" height="2.0" fill="#f6993f"/>
<rect x="450.17" y="184.30" width="2.03" height="2.0" fill="#f6993f"/>
<rect x="452.20" y="186.61" width="1.93" height="2.0" fill="#f6993f"/>
<rect x="452.20" y="191.25" width="1.42" height="2.0" fill="#f6993f"/>
<rect x="452.20" y="193.56" width="1.75" height="2.0" fill="#f6993f"/>
<rect x="452.20" y="198.20" width="1.78" height="2.0" fill="#f6993f"/>
<rect x="452.20" y="202.83" width="1.69" height="2.0" fill="#f6993f"/>
<rect x="452.20" y="205.15" width="1.56" height="2.0" fill="#f6993f"/>
<rect x="452.20" y="207.47" width="1.45" height="2.0" fill="#f6993f"/>
<rect x="452.20" y="209.78" width="1.43" height="2.0" fill="#f6993f"/>
<rect x="452.20" y="212.10" width="1.38" height="2.0" fill="#f6993f"/>
<rect x="452.20" y="214.42" width="1.42" height="2.0" fill="#f6993f"/>
<rect x="452.20" y="216.73" width="0.68" height="2.0" fill="#f6993f"/>
<rect x="451.06" y="216.73" width="1.14" height="2.0" fill="#f6993f"/>
<rect x="452.20" y="219.05" width="1.32" height="2.0" fill="#f6993f"/>
<rect x="452.20" y="223.68" width="1.25" height="2.0" fill="#f6993f"/>
<rect x="452.20" y="226.00" width="0.96" height="2.0" fill="#f6993f"/>
<line x1="452.20" y1="20.50" x2="452.20" y2="228.30" stroke="#d99a64" stroke-width="1.5" />
</svg>
</body></html>
